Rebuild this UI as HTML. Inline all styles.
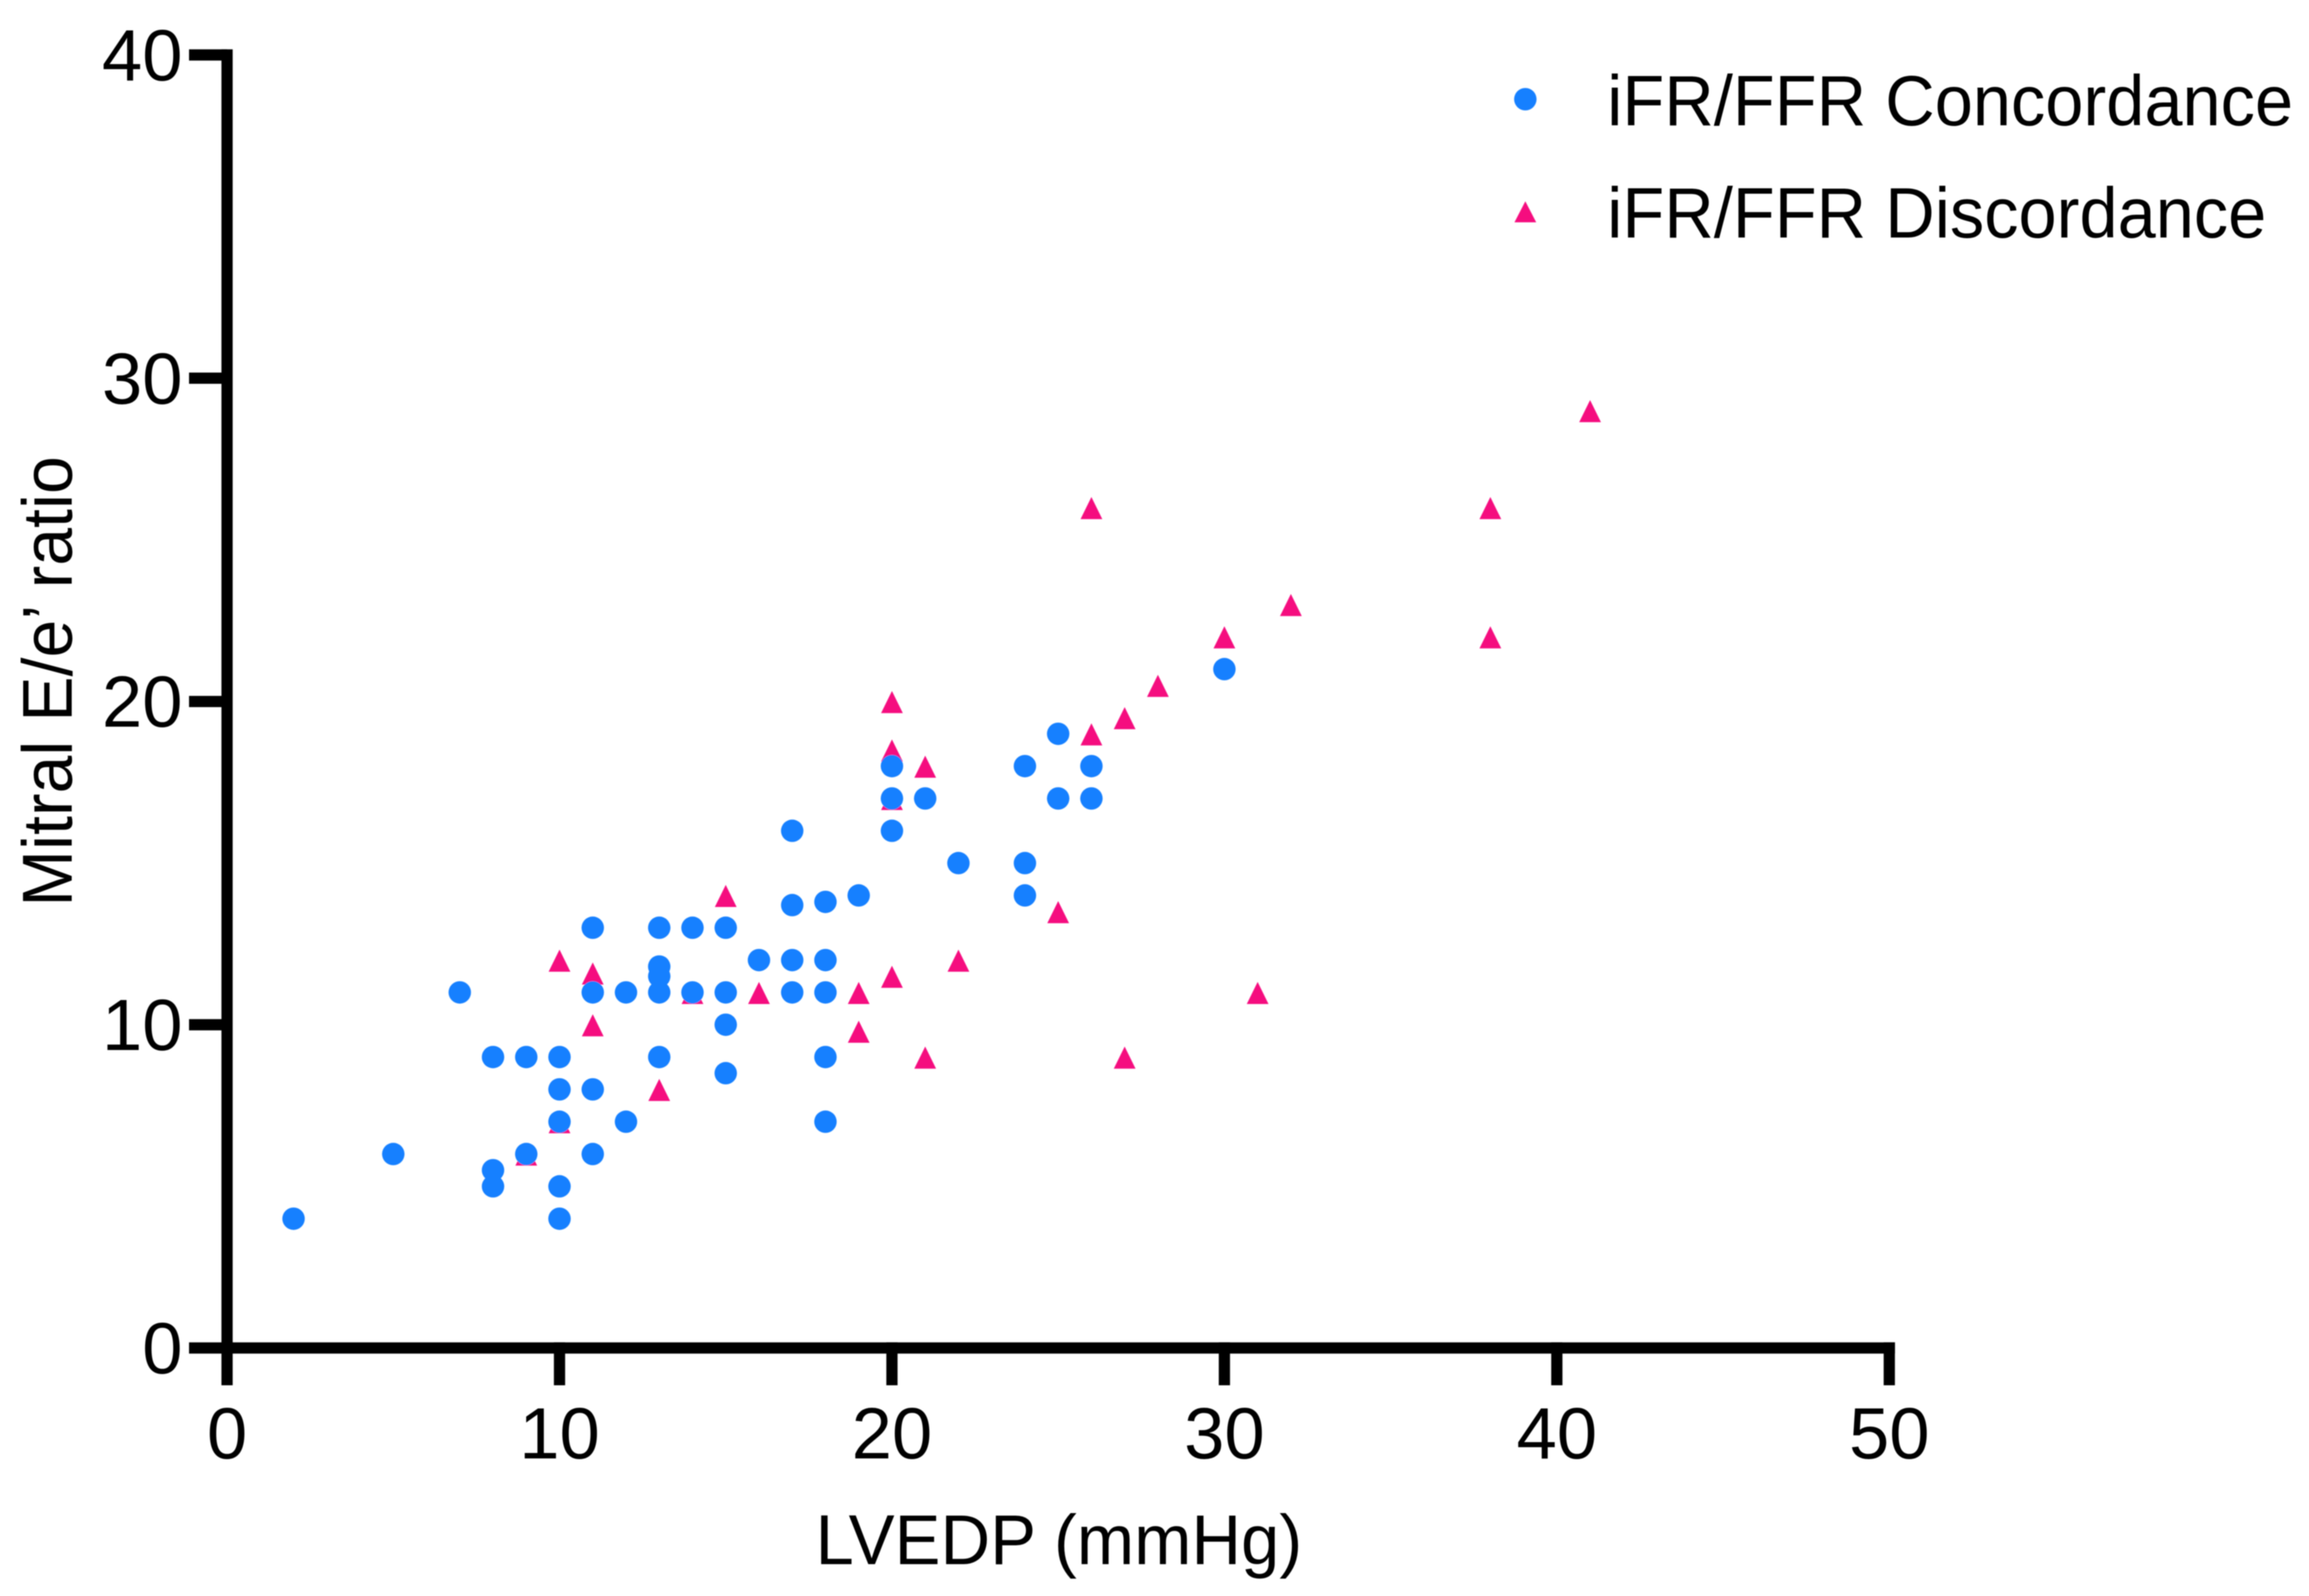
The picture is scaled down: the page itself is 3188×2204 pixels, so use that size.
<!DOCTYPE html>
<html lang="en">
<head>
<meta charset="utf-8">
<title>Mitral E/e' ratio vs LVEDP</title>
<style>
html,body{margin:0;padding:0;background:#fff;}
svg{display:block;}
text{font-family:"Liberation Sans",Arial,sans-serif;fill:#000;}
</style>
</head>
<body>
<svg id="chart" xmlns="http://www.w3.org/2000/svg" width="3188" height="2204" viewBox="0 0 3188 2204">
<rect x="0" y="0" width="3188" height="2204" fill="#ffffff"/>
<g id="axes" filter="url(#soft)"></g>
<g id="marks" filter="url(#soft)"></g>
<text x="1126" y="2160" font-size="97" textLength="672" lengthAdjust="spacingAndGlyphs" filter="url(#soft)">LVEDP (mmHg)</text>
<text transform="translate(99,1252) rotate(-90)" x="0" y="0" font-size="97" textLength="622" lengthAdjust="spacingAndGlyphs" filter="url(#soft)">Mitral E/e’ ratio</text>
<g filter="url(#soft)">
  <g>
    <ellipse cx="2106" cy="137" rx="15.5" ry="15.5" fill="#1280FF"/>
    <text x="2219" y="173" font-size="98" textLength="947" lengthAdjust="spacingAndGlyphs">iFR/FFR Concordance</text>
  </g>
  <g>
    <polygon points="2106,278 2121,307 2091,307" fill="#F5087F"/>
    <text x="2219" y="328" font-size="98" textLength="910" lengthAdjust="spacingAndGlyphs">iFR/FFR Discordance</text>
  </g>
</g>
<defs>
  <filter id="soft" x="-5%" y="-5%" width="110%" height="110%"><feGaussianBlur stdDeviation="0.8"/></filter>
</defs>
</svg>
<script>
const xTickValues = [0, 10, 20, 30, 40, 50];
const yTickValues = [0, 10, 20, 30, 40];
const xTickLabels = ["0", "10", "20", "30", "40", "50"];
const yTickLabels = ["0", "10", "20", "30", "40"];

const concordanceX = [2, 5, 7, 8, 8, 8, 9, 9, 10, 10, 10, 10, 10, 11, 11, 11, 11, 12, 12, 13, 13, 13, 13, 13, 14, 14, 15, 15, 15, 15, 16, 17, 17, 17, 17, 18, 18, 18, 18, 18, 19, 20, 20, 20, 21, 22, 24, 24, 24, 25, 25, 26, 26, 30];
const concordanceY = [4, 6, 11, 9, 5.5, 5, 9, 6, 9, 8, 7, 5, 4, 13, 11, 8, 6, 11, 7, 13, 11.8, 11.5, 11, 9, 13, 11, 13, 11, 10, 8.5, 12, 16, 13.7, 12, 11, 13.8, 12, 11, 9, 7, 14, 18, 17, 16, 17, 15, 18, 15, 14, 19, 17, 18, 17, 21];

const discordanceX = [9, 10, 10, 11, 11, 13, 14, 15, 16, 19, 19, 20, 20, 20, 20, 21, 21, 22, 25, 26, 26, 27, 27, 28, 30, 31, 32, 38, 38, 41];
const discordanceY = [6, 12, 7, 11.6, 10, 8, 11, 14, 11, 11, 9.8, 20, 18.5, 17, 11.5, 18, 9, 12, 13.5, 26, 19, 19.5, 9, 20.5, 22, 11, 23, 26, 22, 29];

const SVG_NS = "http://www.w3.org/2000/svg";
const xScale = function (v) { return 313.5 + v * 45.9; };
const yScale = function (v) { return 1861.5 - v * 44.64; };
const AXIS_W = 15.5;
const axes = document.getElementById("axes");
const marks = document.getElementById("marks");

function makeLine(x1, y1, x2, y2) {
  const l = document.createElementNS(SVG_NS, "line");
  l.setAttribute("x1", x1);
  l.setAttribute("y1", y1);
  l.setAttribute("x2", x2);
  l.setAttribute("y2", y2);
  l.setAttribute("stroke", "#000");
  l.setAttribute("stroke-width", AXIS_W);
  return l;
}

function makeText(x, y, anchor, content) {
  const t = document.createElementNS(SVG_NS, "text");
  t.setAttribute("x", x);
  t.setAttribute("y", y);
  t.setAttribute("text-anchor", anchor);
  t.setAttribute("font-size", "100");
  t.textContent = content;
  return t;
}

const xAxisLine = makeLine(xScale(0) - AXIS_W / 2, yScale(0), xScale(50) + AXIS_W / 2, yScale(0));


axes.appendChild(xAxisLine);

const yAxisLine = makeLine(xScale(0), yScale(40) - AXIS_W / 2, xScale(0), yScale(0));


axes.appendChild(yAxisLine);

xTickValues.forEach(function (v, i) {
  const tick = makeLine(xScale(v), yScale(0) - AXIS_W / 2, xScale(v), 1913);
  
  
  axes.appendChild(tick);
  const label = makeText(xScale(v), 2014, "middle", xTickLabels[i]);
  
  
  axes.appendChild(label);
});

yTickValues.forEach(function (v, i) {
  const tick = makeLine(261, yScale(v), xScale(0), yScale(v));
  
  
  axes.appendChild(tick);
  const label = makeText(252, yScale(v) + 35, "end", yTickLabels[i]);
  
  
  axes.appendChild(label);
});

discordanceX.forEach(function (xv, i) {
  const cx = xScale(xv);
  const cy = yScale(discordanceY[i]);
  const tri = document.createElementNS(SVG_NS, "polygon");
  tri.setAttribute("points", cx + "," + (cy - 14.5) + " " + (cx + 15) + "," + (cy + 16) + " " + (cx - 15) + "," + (cy + 16));
  tri.setAttribute("fill", "#F5087F");
  
  
  marks.appendChild(tri);
});

concordanceX.forEach(function (xv, i) {
  const c = document.createElementNS(SVG_NS, "circle");
  c.setAttribute("cx", xScale(xv));
  c.setAttribute("cy", yScale(concordanceY[i]));
  c.setAttribute("r", "15.5");
  c.setAttribute("fill", "#1280FF");
  
  
  marks.appendChild(c);
});
</script>
</body>
</html>
